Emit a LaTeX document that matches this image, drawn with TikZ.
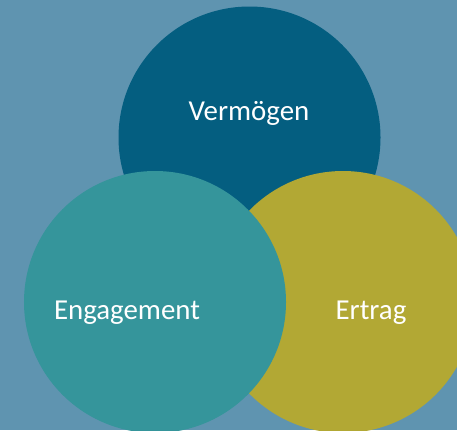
\documentclass[tikz,border=0pt]{standalone}
\usepackage{fontspec}
\setmainfont{Carlito}
\usepackage{tikz}
\definecolor{vennBack}{RGB}{95,148,176}
\definecolor{vennDark}{RGB}{4,94,128}
\definecolor{vennTeal}{RGB}{53,149,155}
\definecolor{vennOlive}{RGB}{178,168,52}

\tikzset{
  ring/.style={circle, minimum size=262bp, inner sep=0pt},
  word/.style={text=white, font=\fontsize{29}{34}\selectfont, inner sep=0pt, anchor=base}
}

\begin{document}
\begin{tikzpicture}[x=1bp, y=-1bp]
\useasboundingbox (0,0) rectangle (457,430);
\clip (0,0) rectangle (457,430);
\fill[vennBack] (0,0) rectangle (457,430);

% circles, back to front
\node[ring, fill=vennDark] (verm) at (249.5,137.5) {};
\node[ring, fill=vennOlive] (ertr) at (343,302) {};
\node[ring, fill=vennTeal] (enga) at (155,302) {};

% labels
\node[word] (vermtxt) at (249,120.5) {Vermögen};
\node[word] (ertrtxt) at (371,319) {Ertrag};
\node[word] (engatxt) at (127,319) {Engagement};
\end{tikzpicture}
\end{document}
